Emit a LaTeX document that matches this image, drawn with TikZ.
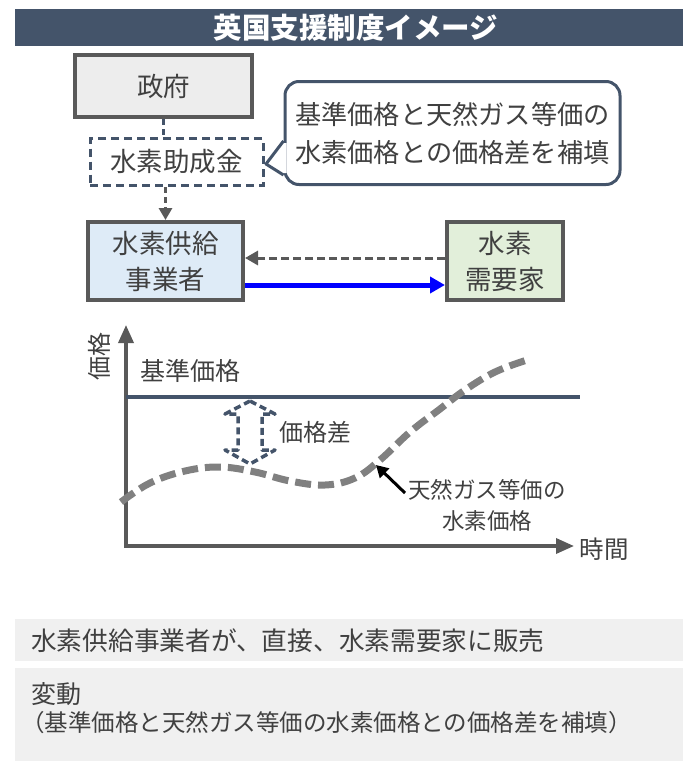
\documentclass[tikz,border=0pt]{standalone}
\usepackage{fontspec}
\setmainfont{Noto Sans CJK JP}
\usetikzlibrary{arrows.meta}
\definecolor{slate}{HTML}{44546A}
\definecolor{dgray}{HTML}{595959}
\definecolor{tgray}{HTML}{404040}
\definecolor{boxgray}{HTML}{EDEDED}
\definecolor{lblue}{HTML}{DEEBF7}
\definecolor{lgreen}{HTML}{E2EFDA}
\definecolor{panel}{HTML}{F0F0F0}
\definecolor{curvegray}{HTML}{808080}
\definecolor{pureblue}{HTML}{0000FF}
\tikzset{
  txt/.style={text=tgray, inner sep=0pt, font=\fontsize{25}{35}\selectfont, align=center},
  solidbox/.style={draw=dgray, line width=4pt, inner sep=0pt, text=tgray, font=\fontsize{26.5}{36}\selectfont, align=center},
  dashbox/.style={draw=slate, line width=3pt, dash pattern=on 8pt off 5pt, inner sep=0pt, text=tgray, font=\fontsize{26.5}{35}\selectfont},
  conn/.style={draw=slate, line width=3pt, dash pattern=on 6pt off 4pt},
  axisline/.style={draw=dgray, line width=3.5pt, -{Triangle[length=18pt,width=15pt]}},
  curveline/.style={draw=curvegray, line width=7pt, dash pattern=on 16pt off 7pt},
}
\begin{document}
\begin{tikzpicture}[x=1pt,y=-1pt]
\useasboundingbox (0,0) rectangle (683,761);
% title bar
\fill[slate] (15,9) rectangle (683,46);
\node[text=white, font=\fontsize{28.5}{30}\selectfont\bfseries, inner sep=0pt] (title) at (356,28) {英国支援制度イメージ};
% boxes
\node[solidbox, fill=boxgray, minimum width=177pt, minimum height=62pt] (seifu) at (163.5,86) {政府};
\node[dashbox, fill=white, minimum width=173pt, minimum height=47pt] (sub) at (176.5,162) {水素助成金};
\node[solidbox, fill=lblue, minimum width=155pt, minimum height=78pt] (supp) at (165.5,261) {水素供給\\事業者};
\node[solidbox, fill=lgreen, minimum width=116pt, minimum height=78pt] (dem) at (505,261) {水素\\需要家};
% connectors
\draw[conn] (seifu.south) -- (seifu.south |- sub.north);
\draw[conn, draw=dgray, -{Triangle[length=12pt,width=13pt]}] (sub.south -| supp.north) -- (supp.north);
\draw[draw=dgray, line width=3pt, dash pattern=on 8pt off 4pt, -{Triangle[length=13pt,width=14pt]}] ([yshift=3pt]dem.west) -- ([yshift=3pt]supp.east);
\draw[draw=pureblue, line width=5pt, -{Triangle[length=15pt,width=16pt]}] ([yshift=-24pt]supp.east) -- ([yshift=-24pt]dem.west);
% callout
\node[draw=slate, line width=3pt, rounded corners=14pt, fill=white, minimum width=335pt, minimum height=103pt, text=tgray, font=\fontsize{26.2}{38}\selectfont, align=left, inner sep=0pt] (call) at (452.5,133) {基準価格と天然ガス等価の\\水素価格との価格差を補填};
\coordinate (ptip) at (266,164);
\fill[white] ([yshift=-10pt]call.west) -- (ptip) -- ([yshift=-40pt]call.west) -- ([xshift=3pt,yshift=-40pt]call.west) -- ([xshift=3pt,yshift=-10pt]call.west) -- cycle;
\draw[slate, line width=3pt, line join=round] ([yshift=-8pt]call.west) -- (ptip) -- ([yshift=-42pt]call.west);
% chart
\coordinate (origin) at (126,546);
\coordinate (ytip) at (126,325);
\coordinate (xtip) at (574,546);
\draw[axisline] ([yshift=1.75pt]origin) -- (ytip);
\draw[axisline] ([xshift=-1.75pt]origin) -- (xtip);
\node[txt, rotate=90, font=\fontsize{24}{28}\selectfont] (ylab) at (99,356) {価格};
\node[txt, font=\fontsize{24.5}{28}\selectfont] (xlab) at (604,549) {時間};
\node[txt, font=\fontsize{25}{28}\selectfont, anchor=west] (kijun) at (140,371) {基準価格};
\draw[slate, line width=4.5pt] (126,397) -- (580,397);
% difference arrow
\draw[slate, line width=3.5pt, dash pattern=on 7pt off 4pt, line join=round]
  (250,401) -- (275,414) -- (262,414) -- (262,450) -- (275,450) -- (250,464) -- (225,450) -- (238,450) -- (238,414) -- (225,414) -- cycle;
\node[txt, font=\fontsize{24}{28}\selectfont] (diff) at (315,432) {価格差};
% natural gas curve
\draw[curveline] plot[smooth, tension=0.65] coordinates {(121,502) (150,483) (185,471) (220,467) (255,472) (290,481) (325,485) (355,478) (380,460) (410,432) (440,409) (465,390) (495,372) (527,360)};
\node[txt, font=\fontsize{22.5}{31}\selectfont] (natlab) at (487,505) {天然ガス等価の\\水素価格};
\coordinate (pstart) at (405,493);
\coordinate (pend) at (376,465);
\draw[black, line width=3pt, -{Triangle[length=12pt,width=13pt]}] (pstart) -- (pend);
% bottom panels
\fill[panel] (15,619) rectangle (683,661);
\fill[panel] (15,668) rectangle (683,761);
\node[txt, anchor=west, font=\fontsize{25.7}{28}\selectfont] (row1) at (31,641) {水素供給事業者が、直接、水素需要家に販売};
\node[txt, anchor=west, font=\fontsize{25}{28}\selectfont] (row2) at (31,694) {変動};
\node[txt, anchor=west, font=\fontsize{23.5}{28}\selectfont] (row3) at (21,723) {（基準価格と天然ガス等価の水素価格との価格差を補填）};
\end{tikzpicture}
\end{document}
